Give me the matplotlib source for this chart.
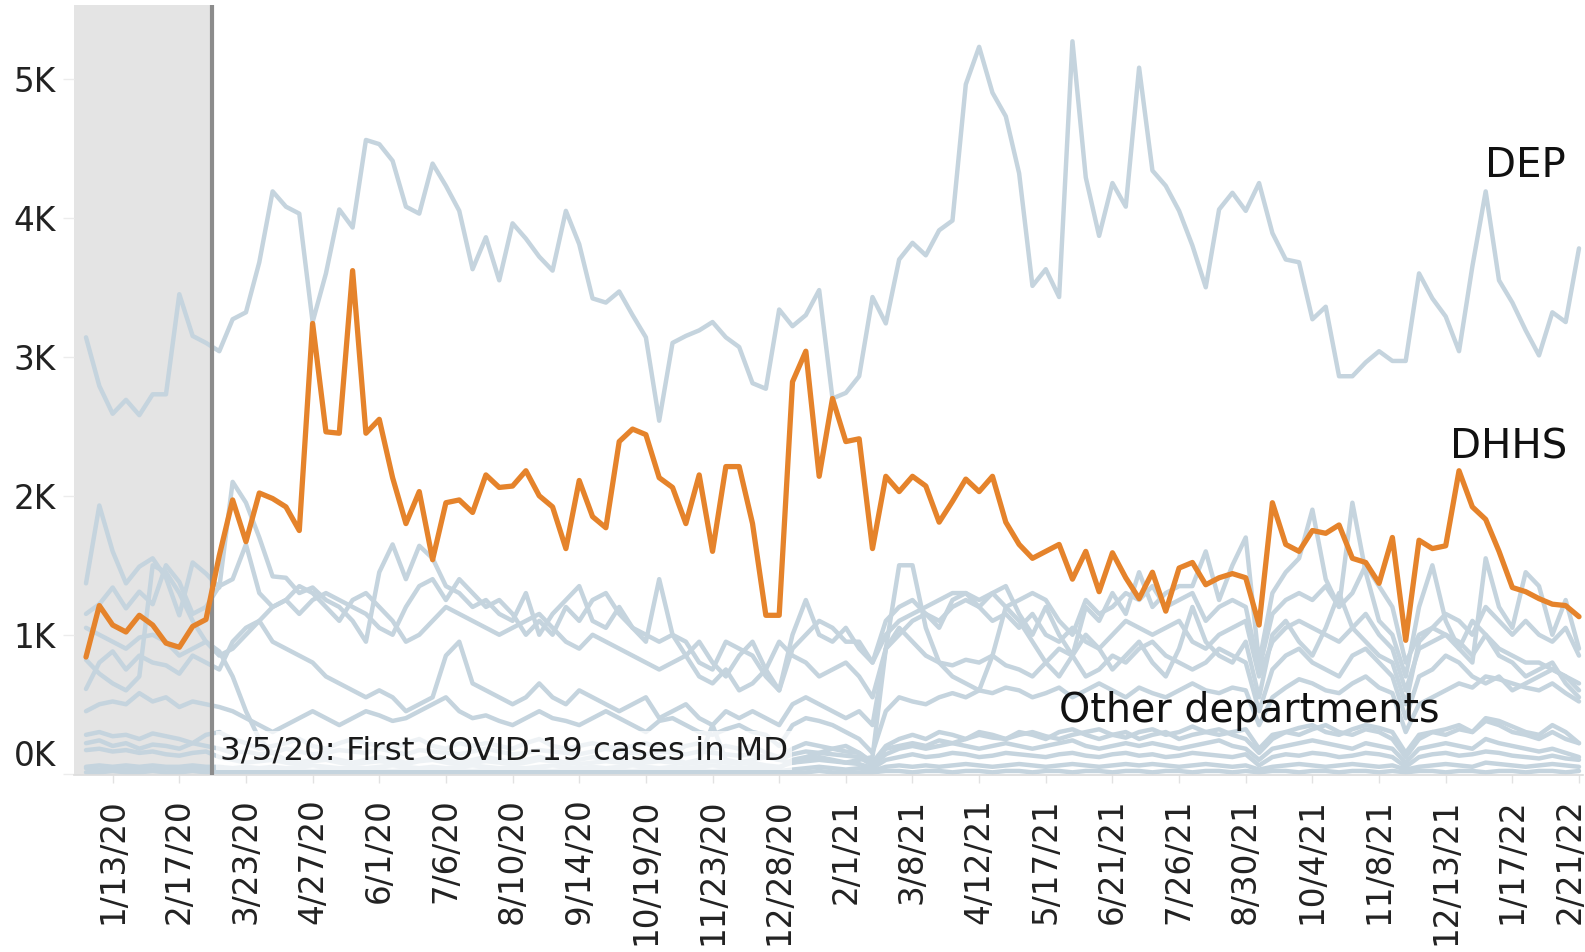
import matplotlib
matplotlib.use("Agg")
import matplotlib.pyplot as plt
from matplotlib.transforms import ScaledTranslation
import pandas as pd

# ---------------- data (values in thousands) ----------------
start_date = "2019-12-30"
n_weeks = 113
covid_date = "2020-03-05"

dhhs = [0.84, 1.21, 1.07, 1.02, 1.14, 1.07, 0.94, 0.91, 1.06, 1.11,
        1.57, 1.97, 1.67, 2.02, 1.98, 1.92, 1.75, 3.24, 2.46, 2.45,
        3.62, 2.45, 2.55, 2.13, 1.80, 2.03, 1.54, 1.95, 1.97, 1.88,
        2.15, 2.06, 2.07, 2.18, 2.00, 1.92, 1.62, 2.11, 1.85, 1.77,
        2.39, 2.48, 2.44, 2.13, 2.06, 1.80, 2.15, 1.60, 2.21, 2.21,
        1.80, 1.14, 1.14, 2.82, 3.04, 2.14, 2.70, 2.39, 2.41, 1.62,
        2.14, 2.03, 2.14, 2.07, 1.81, 1.96, 2.12, 2.03, 2.14, 1.81,
        1.65, 1.55, 1.60, 1.65, 1.40, 1.60, 1.31, 1.59, 1.41, 1.26,
        1.45, 1.17, 1.48, 1.52, 1.36, 1.41, 1.44, 1.41, 1.07, 1.95,
        1.65, 1.60, 1.75, 1.73, 1.79, 1.55, 1.52, 1.37, 1.70, 0.96,
        1.68, 1.62, 1.64, 2.18, 1.92, 1.83, 1.60, 1.34, 1.31, 1.26,
        1.22, 1.21, 1.13]

dep = [3.14, 2.79, 2.59, 2.69, 2.58, 2.73, 2.73, 3.45, 3.15, 3.10,
       3.04, 3.27, 3.32, 3.68, 4.19, 4.08, 4.03, 3.25, 3.60, 4.06,
       3.93, 4.56, 4.53, 4.41, 4.08, 4.03, 4.39, 4.23, 4.05, 3.63,
       3.86, 3.55, 3.96, 3.85, 3.72, 3.62, 4.05, 3.81, 3.42, 3.39,
       3.47, 3.30, 3.14, 2.54, 3.10, 3.15, 3.19, 3.25, 3.14, 3.07,
       2.81, 2.77, 3.34, 3.22, 3.30, 3.48, 2.70, 2.74, 2.86, 3.43,
       3.24, 3.70, 3.82, 3.73, 3.91, 3.98, 4.96, 5.23, 4.90, 4.73,
       4.32, 3.51, 3.63, 3.43, 5.27, 4.29, 3.87, 4.25, 4.08, 5.08,
       4.34, 4.23, 4.05, 3.80, 3.50, 4.06, 4.18, 4.05, 4.25, 3.89,
       3.70, 3.68, 3.27, 3.36, 2.86, 2.86, 2.96, 3.04, 2.97, 2.97,
       3.60, 3.42, 3.29, 3.04, 3.65, 4.19, 3.55, 3.39, 3.19, 3.01,
       3.32, 3.25, 3.78]

other_1 = [1.37, 1.93, 1.60, 1.37, 1.49, 1.55, 1.41, 1.14, 1.52, 1.44,
           1.34, 2.10, 1.95, 1.70, 1.42, 1.41, 1.30, 1.34, 1.25, 1.20,
           1.10, 0.95, 1.45, 1.65, 1.40, 1.64, 1.55, 1.35, 1.30, 1.20,
           1.25, 1.15, 1.10, 1.30, 1.00, 1.15, 1.25, 1.35, 1.10, 1.05,
           1.20, 1.05, 0.95, 1.40, 1.00, 0.95, 0.80, 0.75, 0.95, 0.90,
           0.85, 0.70, 0.60, 1.00, 1.25, 1.00, 0.95, 1.05, 0.90, 0.80,
           1.10, 1.20, 1.25, 1.15, 1.05, 1.25, 1.30, 1.20, 1.30, 1.35,
           1.15, 1.00, 1.20, 1.00, 0.85, 1.20, 1.10, 1.30, 1.15, 1.45,
           1.20, 1.30, 1.35, 1.35, 1.60, 1.25, 1.50, 1.70, 0.80, 1.30,
           1.45, 1.55, 1.90, 1.40, 1.20, 1.95, 1.45, 1.10, 1.00, 0.70,
           1.20, 1.50, 1.10, 0.90, 0.80, 1.55, 1.20, 1.05, 1.45, 1.35,
           1.00, 1.25, 0.90]

other_2 = [1.15, 1.22, 1.34, 1.19, 1.31, 1.22, 1.50, 1.38, 1.15, 1.20,
           1.35, 1.40, 1.65, 1.30, 1.20, 1.25, 1.15, 1.25, 1.30, 1.25,
           1.20, 1.15, 1.05, 1.00, 1.20, 1.35, 1.40, 1.25, 1.40, 1.30,
           1.20, 1.25, 1.15, 1.00, 1.10, 1.00, 1.20, 1.10, 1.25, 1.30,
           1.15, 1.05, 1.00, 0.95, 1.00, 0.85, 0.95, 0.80, 0.70, 0.85,
           0.95, 0.75, 0.60, 0.90, 1.00, 1.10, 1.05, 0.95, 0.95, 0.80,
           1.00, 1.10, 1.15, 1.20, 1.25, 1.30, 1.30, 1.25, 1.30, 1.20,
           1.25, 1.30, 1.25, 1.10, 1.00, 1.25, 1.15, 1.20, 1.30, 1.25,
           1.35, 1.20, 1.25, 1.30, 1.10, 1.20, 1.25, 1.20, 0.75, 1.15,
           1.25, 1.30, 1.25, 1.35, 1.20, 1.30, 1.50, 1.35, 1.20, 0.80,
           1.00, 1.05, 1.15, 1.10, 1.00, 1.20, 1.10, 1.00, 1.10, 1.00,
           0.95, 1.05, 0.85]

other_3 = [0.82, 0.72, 0.65, 0.60, 0.70, 1.50, 1.45, 1.30, 1.10, 0.95,
           0.85, 0.90, 1.00, 1.10, 1.20, 1.25, 1.35, 1.30, 1.20, 1.10,
           1.25, 1.30, 1.20, 1.10, 0.95, 1.00, 1.10, 1.20, 1.15, 1.10,
           1.05, 1.00, 1.05, 1.10, 1.15, 1.05, 0.95, 0.90, 1.00, 0.95,
           0.90, 0.85, 0.80, 0.75, 0.80, 0.85, 0.70, 0.65, 0.75, 0.60,
           0.65, 0.75, 0.95, 0.85, 0.80, 0.70, 0.75, 0.80, 0.70, 0.55,
           0.90, 1.00, 1.10, 1.15, 1.10, 1.20, 1.25, 1.20, 1.10, 1.15,
           1.05, 1.15, 1.00, 0.95, 1.05, 0.95, 0.90, 1.00, 1.10, 1.05,
           1.00, 1.05, 1.10, 0.95, 0.90, 1.00, 1.05, 1.10, 0.70, 0.95,
           1.05, 1.10, 1.05, 1.00, 0.95, 1.05, 1.15, 1.00, 0.90, 0.60,
           0.90, 0.95, 1.00, 0.95, 0.85, 1.00, 0.90, 0.85, 0.80, 0.80,
           0.75, 0.70, 0.65]

other_4 = [0.61, 0.80, 0.88, 0.75, 0.85, 0.80, 0.78, 0.72, 0.85, 0.80,
           0.75, 0.95, 1.05, 1.10, 0.95, 0.90, 0.85, 0.80, 0.70, 0.65,
           0.60, 0.55, 0.60, 0.55, 0.45, 0.50, 0.55, 0.85, 0.95, 0.65,
           0.60, 0.55, 0.50, 0.55, 0.65, 0.55, 0.50, 0.60, 0.55, 0.50,
           0.45, 0.50, 0.55, 0.40, 0.45, 0.50, 0.40, 0.35, 0.45, 0.40,
           0.45, 0.40, 0.35, 0.50, 0.55, 0.50, 0.45, 0.40, 0.45, 0.35,
           0.90, 1.05, 0.95, 0.85, 0.80, 0.78, 0.82, 0.80, 0.85, 0.78,
           0.75, 0.70, 0.80, 0.90, 0.85, 0.70, 0.75, 0.85, 0.80, 0.90,
           0.95, 0.85, 0.80, 0.75, 0.80, 0.90, 0.85, 0.80, 0.45, 0.75,
           0.85, 0.90, 0.80, 0.75, 0.70, 0.85, 0.90, 0.80, 0.70, 0.40,
           0.70, 0.75, 0.85, 0.80, 0.70, 0.65, 0.70, 0.60, 0.65, 0.70,
           0.75, 0.70, 0.60]

other_5 = [0.45, 0.50, 0.52, 0.50, 0.58, 0.52, 0.55, 0.48, 0.52, 0.50,
           0.48, 0.45, 0.40, 0.35, 0.30, 0.35, 0.40, 0.45, 0.40, 0.35,
           0.40, 0.45, 0.42, 0.38, 0.40, 0.45, 0.50, 0.55, 0.45, 0.40,
           0.42, 0.38, 0.35, 0.40, 0.45, 0.40, 0.38, 0.35, 0.40, 0.45,
           0.40, 0.35, 0.30, 0.38, 0.40, 0.35, 0.30, 0.28, 0.32, 0.35,
           0.30, 0.28, 0.20, 0.35, 0.40, 0.38, 0.35, 0.30, 0.25, 0.15,
           0.45, 0.55, 0.52, 0.50, 0.55, 0.58, 0.55, 0.60, 0.58, 0.62,
           0.60, 0.55, 0.58, 0.62, 0.55, 0.60, 0.65, 0.60, 0.55, 0.62,
           0.58, 0.55, 0.60, 0.65, 0.60, 0.58, 0.62, 0.60, 0.35, 0.55,
           0.62, 0.68, 0.65, 0.60, 0.58, 0.65, 0.70, 0.62, 0.58, 0.30,
           0.50, 0.55, 0.60, 0.65, 0.62, 0.70, 0.68, 0.65, 0.62, 0.60,
           0.65, 0.58, 0.52]

other_6 = [0.28, 0.30, 0.27, 0.28, 0.25, 0.29, 0.27, 0.25, 0.22, 0.28,
           0.30, 0.25, 0.22, 0.18, 0.20, 0.22, 0.25, 0.20, 0.18, 0.22,
           0.25, 0.22, 0.20, 0.18, 0.22, 0.25, 0.20, 0.18, 0.22, 0.20,
           0.22, 0.20, 0.18, 0.22, 0.25, 0.20, 0.18, 0.20, 0.22, 0.20,
           0.18, 0.20, 0.22, 0.18, 0.15, 0.20, 0.22, 0.18, 0.20, 0.18,
           0.20, 0.15, 0.12, 0.18, 0.22, 0.20, 0.18, 0.20, 0.15, 0.08,
           0.20, 0.25, 0.28, 0.25, 0.30, 0.28, 0.25, 0.30, 0.28, 0.25,
           0.30, 0.28, 0.25, 0.30, 0.32, 0.28, 0.25, 0.28, 0.30, 0.25,
           0.28, 0.30, 0.25, 0.28, 0.30, 0.32, 0.28, 0.25, 0.15, 0.25,
           0.30, 0.28, 0.32, 0.35, 0.30, 0.28, 0.32, 0.30, 0.25, 0.12,
           0.25, 0.30, 0.28, 0.32, 0.30, 0.38, 0.35, 0.30, 0.28, 0.25,
           0.30, 0.25, 0.22]

other_7 = [0.22, 0.24, 0.20, 0.22, 0.18, 0.21, 0.20, 0.18, 0.22, 0.20,
           0.18, 0.15, 0.16, 0.14, 0.15, 0.18, 0.16, 0.14, 0.15, 0.17,
           0.16, 0.15, 0.18, 0.16, 0.14, 0.17, 0.16, 0.15, 0.14, 0.16,
           0.18, 0.16, 0.14, 0.15, 0.17, 0.16, 0.15, 0.14, 0.16, 0.18,
           0.16, 0.15, 0.14, 0.16, 0.15, 0.14, 0.16, 0.15, 0.14, 0.13,
           0.14, 0.12, 0.10, 0.14, 0.16, 0.15, 0.14, 0.13, 0.12, 0.06,
           0.14, 0.18, 0.20, 0.18, 0.20, 0.22, 0.20, 0.18, 0.20, 0.22,
           0.20, 0.18, 0.20, 0.22, 0.24, 0.20, 0.18, 0.20, 0.22, 0.20,
           0.22, 0.20, 0.18, 0.20, 0.22, 0.24, 0.20, 0.18, 0.10, 0.18,
           0.20, 0.22, 0.24, 0.22, 0.20, 0.18, 0.22, 0.20, 0.18, 0.08,
           0.18, 0.20, 0.22, 0.20, 0.18, 0.25, 0.22, 0.20, 0.18, 0.16,
           0.18, 0.15, 0.12]

other_8 = [0.17, 0.18, 0.16, 0.17, 0.15, 0.16, 0.14, 0.13, 0.15, 0.16,
           0.12, 0.10, 0.08, 0.09, 0.10, 0.08, 0.07, 0.09, 0.10, 0.08,
           0.07, 0.08, 0.09, 0.08, 0.07, 0.09, 0.10, 0.08, 0.07, 0.08,
           0.09, 0.08, 0.07, 0.08, 0.10, 0.09, 0.08, 0.07, 0.08, 0.09,
           0.08, 0.07, 0.08, 0.09, 0.08, 0.07, 0.08, 0.09, 0.08, 0.07,
           0.08, 0.06, 0.05, 0.08, 0.09, 0.10, 0.09, 0.08, 0.07, 0.04,
           0.10, 0.12, 0.14, 0.12, 0.13, 0.15, 0.14, 0.12, 0.13, 0.15,
           0.14, 0.13, 0.12, 0.14, 0.15, 0.13, 0.12, 0.14, 0.15, 0.13,
           0.14, 0.12, 0.13, 0.15, 0.14, 0.13, 0.12, 0.14, 0.06, 0.12,
           0.14, 0.13, 0.15, 0.14, 0.12, 0.13, 0.15, 0.14, 0.12, 0.05,
           0.12, 0.14, 0.15, 0.13, 0.14, 0.16, 0.15, 0.13, 0.12, 0.11,
           0.13, 0.11, 0.10]

other_9 = [0.05, 0.06, 0.05, 0.06, 0.05, 0.06, 0.05, 0.05, 0.06, 0.05,
           0.05, 0.04, 0.05, 0.04, 0.05, 0.04, 0.05, 0.06, 0.05, 0.04,
           0.05, 0.04, 0.05, 0.06, 0.05, 0.04, 0.05, 0.04, 0.05, 0.06,
           0.05, 0.04, 0.05, 0.04, 0.05, 0.06, 0.05, 0.04, 0.05, 0.04,
           0.05, 0.06, 0.05, 0.04, 0.05, 0.04, 0.05, 0.06, 0.05, 0.04,
           0.05, 0.04, 0.04, 0.10, 0.12, 0.15, 0.18, 0.16, 0.15, 0.08,
           0.18, 0.20, 0.22, 0.20, 0.24, 0.22, 0.25, 0.28, 0.26, 0.25,
           0.28, 0.30, 0.27, 0.25, 0.28, 0.30, 0.32, 0.28, 0.26, 0.30,
           0.32, 0.28, 0.30, 0.34, 0.30, 0.28, 0.30, 0.32, 0.18, 0.28,
           0.30, 0.33, 0.35, 0.30, 0.28, 0.32, 0.35, 0.33, 0.30, 0.15,
           0.28, 0.30, 0.32, 0.35, 0.30, 0.40, 0.38, 0.34, 0.30, 0.28,
           0.35, 0.30, 0.22]

other_10 = [0.04, 0.03, 0.04, 0.03, 0.04, 0.03, 0.04, 0.03, 0.04, 0.03,
            0.03, 0.02, 0.03, 0.02, 0.03, 0.02, 0.03, 0.02, 0.03, 0.02,
            0.03, 0.02, 0.03, 0.02, 0.03, 0.02, 0.03, 0.02, 0.03, 0.02,
            0.03, 0.02, 0.03, 0.02, 0.03, 0.02, 0.03, 0.02, 0.03, 0.02,
            0.03, 0.02, 0.03, 0.02, 0.03, 0.02, 0.03, 0.02, 0.03, 0.02,
            0.03, 0.02, 0.02, 0.03, 0.04, 0.05, 0.04, 0.03, 0.04, 0.02,
            0.05, 0.06, 0.05, 0.06, 0.05, 0.06, 0.07, 0.06, 0.05, 0.06,
            0.07, 0.06, 0.05, 0.06, 0.07, 0.06, 0.05, 0.06, 0.07, 0.06,
            0.07, 0.06, 0.05, 0.06, 0.07, 0.06, 0.05, 0.06, 0.03, 0.05,
            0.06, 0.07, 0.06, 0.05, 0.06, 0.07, 0.06, 0.05, 0.06, 0.03,
            0.05, 0.06, 0.07, 0.06, 0.05, 0.08, 0.07, 0.06, 0.05, 0.06,
            0.07, 0.06, 0.05]

other_11 = [0.01, 0.01, 0.02, 0.01, 0.01, 0.02, 0.01, 0.01, 0.02, 0.01,
            0.01, 0.01, 0.01, 0.01, 0.01, 0.01, 0.01, 0.01, 0.01, 0.01,
            0.01, 0.01, 0.01, 0.01, 0.01, 0.01, 0.01, 0.01, 0.01, 0.01,
            0.01, 0.01, 0.01, 0.01, 0.01, 0.01, 0.01, 0.01, 0.01, 0.01,
            0.01, 0.01, 0.01, 0.01, 0.01, 0.01, 0.01, 0.01, 0.01, 0.01,
            0.01, 0.01, 0.01, 0.01, 0.01, 0.02, 0.01, 0.01, 0.01, 0.01,
            0.02, 0.02, 0.01, 0.02, 0.02, 0.01, 0.02, 0.02, 0.01, 0.02,
            0.02, 0.01, 0.02, 0.02, 0.01, 0.02, 0.02, 0.01, 0.02, 0.02,
            0.01, 0.02, 0.02, 0.01, 0.02, 0.02, 0.01, 0.02, 0.01, 0.02,
            0.02, 0.01, 0.02, 0.02, 0.01, 0.02, 0.02, 0.01, 0.02, 0.01,
            0.02, 0.02, 0.01, 0.02, 0.02, 0.01, 0.02, 0.02, 0.01, 0.02,
            0.02, 0.01, 0.02]

other_12 = [1.05, 1.00, 0.95, 0.90, 0.98, 1.00, 0.95, 0.85, 0.90, 0.95,
            0.88, 0.70, 0.45, 0.25, 0.15, 0.10, 0.08, 0.10, 0.12, 0.10,
            0.08, 0.10, 0.12, 0.10, 0.08, 0.10, 0.12, 0.10, 0.08, 0.10,
            0.12, 0.10, 0.08, 0.10, 0.12, 0.10, 0.08, 0.10, 0.12, 0.10,
            0.10, 0.08, 0.10, 0.12, 0.10, 0.08, 0.10, 0.35, 0.10, 0.08,
            0.10, 0.12, 0.10, 0.08, 0.10, 0.12, 0.10, 0.08, 0.10, 0.12,
            0.90, 1.50, 1.50, 1.05, 0.80, 0.70, 0.65, 0.60, 0.85, 1.20,
            1.10, 0.95, 0.80, 0.70, 0.85, 1.00, 0.90, 0.75, 0.85, 0.95,
            0.80, 0.70, 0.90, 1.20, 0.95, 0.85, 0.80, 0.95, 0.55, 1.00,
            1.10, 0.95, 0.85, 1.05, 1.30, 1.05, 0.95, 0.85, 0.80, 0.50,
            0.95, 1.05, 1.00, 0.90, 1.10, 1.00, 0.85, 0.80, 0.70, 0.75,
            0.80, 0.65, 0.55]

others = [other_1, other_2, other_3, other_4, other_5, other_6,
          other_7, other_8, other_9, other_10, other_11, other_12]

ytick_values = [0, 1, 2, 3, 4, 5]
ytick_labels = ["0K", "1K", "2K", "3K", "4K", "5K"]

# ---------------- drawing ----------------
dates = pd.date_range(start_date, periods=n_weeks, freq="7D")
weeks = list(range(n_weeks))
covid_week = (pd.Timestamp(covid_date) - dates[0]).days / 7.0

plt.rcParams["font.family"] = ["DejaVu Sans"]
W, H = 1585, 952
fig = plt.figure(figsize=(W / 100, H / 100), dpi=100)
ax = fig.add_axes([74 / W, (H - 775) / H, (1583 - 74) / W, (775 - 5) / H])

xmin, xmax = -0.9, 112.3
ax.set_xlim(xmin, xmax)
ax.set_ylim(-0.009, 5.531)

grey = "#c5d4de"
orange = "#e5832b"

ax.axvspan(xmin, covid_week, color="#e4e4e4", zorder=0, lw=0)

for s in others:
    ax.plot(weeks, s, color=grey, lw=3.2, solid_joinstyle="round",
            solid_capstyle="round", zorder=2)
ax.plot(weeks, dep, color=grey, lw=3.2, solid_joinstyle="round",
        solid_capstyle="round", zorder=2)

ax.axvline(covid_week, color="#8c8c8c", lw=3.0, zorder=3)

ax.plot(weeks, dhhs, color=orange, lw=3.8, solid_joinstyle="round",
        solid_capstyle="round", zorder=4)

ax.text(10.05, 0.165, "3/5/20: First COVID-19 cases in MD", fontsize=23.4,
        color="#1a1a1a", ha="left", va="center", zorder=5,
        bbox=dict(boxstyle="square,pad=0.12", facecolor="white",
                  edgecolor="none", alpha=0.72))

ax.text(111.0, 4.37, "DEP", fontsize=29, color="#111111", ha="right",
        va="center", zorder=6)
ax.text(111.1, 2.35, "DHHS", fontsize=29, color="#111111", ha="right",
        va="center", zorder=6)
ax.text(73.0, 0.45, "Other departments", fontsize=28.5, color="#111111",
        ha="left", va="center", zorder=6)

# axes styling
for side in ["top", "right", "left"]:
    ax.spines[side].set_visible(False)
ax.spines["bottom"].set_color("#dcdcdc")
ax.spines["bottom"].set_linewidth(1.2)

ax.set_yticks(ytick_values)
ax.set_yticklabels(ytick_labels)
ax.tick_params(axis="y", length=8, width=1, color="#ececec", pad=5,
               labelsize=23.5, labelcolor="#222222")

tick_idx = list(range(2, n_weeks, 5))
tick_labels = [f"{dates[i].month}/{dates[i].day}/{dates[i].strftime('%y')}"
               for i in tick_idx]
ax.set_xticks(tick_idx)
ax.set_xticklabels(tick_labels, rotation=90)
ax.tick_params(axis="x", length=6, width=1, color="#e2e2e2", pad=11,
               labelsize=23.5, labelcolor="#222222")

# lift the 0K label like the reference, and nudge the last date label inside
ylabs = ax.get_yticklabels()
ylabs[0].set_transform(ylabs[0].get_transform() +
                       ScaledTranslation(0, 0.21, fig.dpi_scale_trans))
xlabs = ax.get_xticklabels()
xlabs[-1].set_transform(xlabs[-1].get_transform() +
                        ScaledTranslation(-0.09, 0, fig.dpi_scale_trans))

fig.savefig("out.png", dpi=100, facecolor="white")
